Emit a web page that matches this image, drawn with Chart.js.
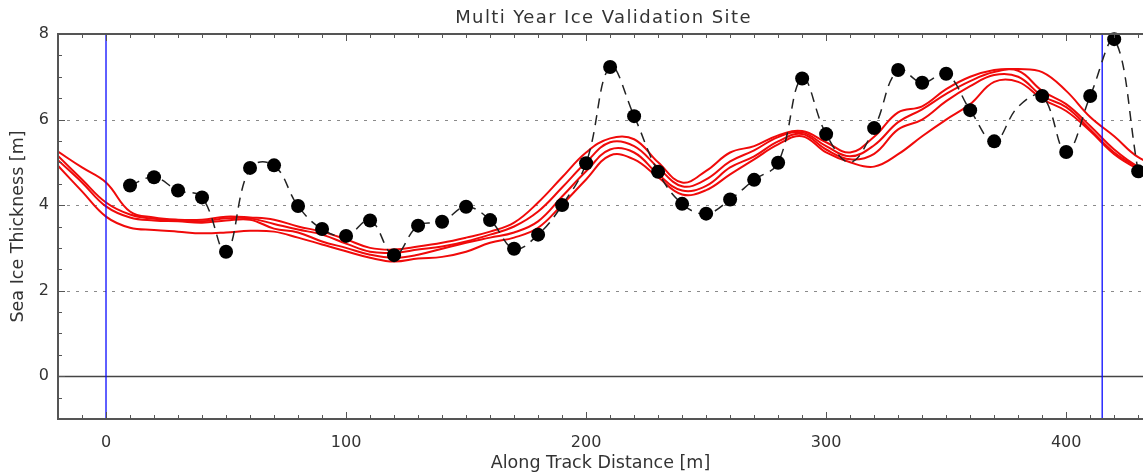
<!DOCTYPE html>
<html>
<head>
<meta charset="utf-8">
<script src="https://cdn.jsdelivr.net/npm/chart.js@4.4.0/dist/chart.umd.min.js"></script>
<style>
  html, body { margin: 0; padding: 0; background: #fff; }
  #wrap { width: 1143px; height: 475px; }
</style>
</head>
<body>
<div id="wrap"><canvas id="chart" width="1143" height="475"></canvas></div>
<script>
// Drill-hole measurements along the track (m)
const distance = [10, 20, 30, 40, 50, 60, 70, 80, 90, 100, 110, 120, 130, 140, 150, 160, 170, 180, 190, 200,
  210, 220, 230, 240, 250, 260, 270, 280, 290, 300, 310, 320, 330, 340, 350, 360, 370, 380, 390, 400, 410, 420, 430];
const measured = [4.46, 4.65, 4.34, 4.18, 2.91, 4.87, 4.93, 3.98, 3.44, 3.28, 3.64, 2.83, 3.52, 3.61, 3.96, 3.65, 2.98, 3.31, 4.00, 4.98,
  7.23, 6.08, 4.78, 4.03, 3.80, 4.13, 4.59, 4.99, 6.96, 5.66, 5.00, 5.80, 7.16, 6.86, 7.07, 6.22, 5.49, 6.30, 6.55, 5.24, 6.55, 7.88, 4.79];
// stations with no marker drawn (line only)
const unmarked = [310, 380];

// Model / airborne retrievals (four runs)
const modelDistance = [-20, -10, 0, 10, 20, 30, 40, 50, 60, 70, 80, 90, 100, 110, 120, 130, 140, 150, 160, 170, 180, 190, 200,
  210, 220, 230, 240, 250, 260, 270, 280, 290, 300, 310, 320, 330, 340, 350, 360, 370, 380, 390, 400, 410, 420, 430, 440];
const run1 = [5.25, 4.88, 4.53, 3.85, 3.71, 3.66, 3.66, 3.73, 3.71, 3.66, 3.50, 3.38, 3.20, 3.00, 2.96, 3.03, 3.12, 3.24, 3.38, 3.59, 4.06, 4.65, 5.23,
  5.56, 5.54, 5.00, 4.53, 4.80, 5.23, 5.38, 5.63, 5.73, 5.47, 5.23, 5.60, 6.17, 6.31, 6.71, 7.00, 7.16, 7.18, 7.11, 6.67, 6.06, 5.61, 5.12, 4.90];
const run2 = [5.15, 4.60, 4.06, 3.78, 3.68, 3.64, 3.62, 3.69, 3.69, 3.56, 3.43, 3.31, 3.10, 2.91, 2.89, 2.96, 3.03, 3.15, 3.31, 3.50, 3.85, 4.41, 5.00,
  5.47, 5.38, 4.88, 4.44, 4.60, 5.02, 5.28, 5.59, 5.70, 5.38, 5.14, 5.40, 5.94, 6.24, 6.60, 6.90, 7.11, 7.14, 6.67, 6.36, 5.85, 5.30, 4.90, 4.70];
const run3 = [5.05, 4.53, 3.97, 3.71, 3.64, 3.62, 3.59, 3.64, 3.66, 3.45, 3.36, 3.15, 3.00, 2.84, 2.77, 2.84, 2.98, 3.12, 3.24, 3.36, 3.62, 4.20, 4.79,
  5.30, 5.23, 4.72, 4.34, 4.45, 4.88, 5.14, 5.49, 5.66, 5.30, 5.07, 5.20, 5.77, 6.00, 6.43, 6.78, 7.04, 7.00, 6.55, 6.29, 5.77, 5.23, 4.88, 4.65];
const run4 = [4.92, 4.32, 3.73, 3.47, 3.42, 3.38, 3.34, 3.36, 3.40, 3.38, 3.24, 3.08, 2.92, 2.77, 2.68, 2.75, 2.79, 2.91, 3.12, 3.24, 3.47, 4.01, 4.60,
  5.16, 5.07, 4.65, 4.25, 4.35, 4.72, 5.07, 5.42, 5.61, 5.23, 5.00, 4.90, 5.19, 5.61, 6.00, 6.36, 6.88, 6.88, 6.48, 6.20, 5.73, 5.19, 4.84, 4.60];

// Site boundaries (blue verticals)
const siteBounds = [0, 415];

const xRange = [-20, 432];
const yRange = [-1, 8];
const dottedLevels = [2, 4, 6];
const zeroLevel = 0;

const FONT = 'DejaVu Sans';
const TEXT = '#333';
const AXIS = '#555';

const toPoints = (xs, ys) => xs.map((x, i) => ({ x: x, y: ys[i] }));

const runs = [run1, run2, run3, run4].map(r => ({
  data: toPoints(modelDistance, r),
  showLine: true,
  borderColor: 'rgb(240, 10, 10)',
  borderWidth: 2,
  pointRadius: 0,
  tension: 0.4,
  order: 3
}));

const bounds = siteBounds.map(b => ({
  data: [{ x: b, y: yRange[0] }, { x: b, y: yRange[1] }],
  showLine: true,
  borderColor: '#0a0aff',
  borderWidth: 1.3,
  pointRadius: 0,
  order: 2
}));

const frame = {
  id: 'frame',
  beforeDatasetsDraw(chart) {
    const { ctx, chartArea: a, scales: { y } } = chart;
    ctx.save();
    dottedLevels.forEach(v => {
      const py = Math.round(y.getPixelForValue(v)) + 0.5;
      ctx.beginPath();
      ctx.setLineDash([3, 6]);
      ctx.strokeStyle = '#8a8a8a';
      ctx.lineWidth = 1;
      ctx.moveTo(a.left, py);
      ctx.lineTo(a.right, py);
      ctx.stroke();
    });
    const pz = Math.round(y.getPixelForValue(zeroLevel)) + 0.5;
    ctx.beginPath();
    ctx.setLineDash([]);
    ctx.strokeStyle = '#444';
    ctx.lineWidth = 1.5;
    ctx.moveTo(a.left, pz);
    ctx.lineTo(a.right, pz);
    ctx.stroke();
    ctx.restore();
  },
  afterDraw(chart) {
    const { ctx, chartArea: a, scales: { x, y } } = chart;
    ctx.save();
    ctx.strokeStyle = AXIS;
    ctx.lineWidth = 2;
    ctx.beginPath();
    ctx.moveTo(a.right + 2, a.top);
    ctx.lineTo(a.left, a.top);
    ctx.lineTo(a.left, a.bottom);
    ctx.lineTo(a.right + 2, a.bottom);
    ctx.stroke();

    // inward ticks, IDL style
    ctx.lineWidth = 1;
    ctx.beginPath();
    for (let v = Math.ceil(x.min / 10) * 10; v <= x.max; v += 10) {
      const px = Math.round(x.getPixelForValue(v)) + 0.5;
      const len = v % 100 === 0 ? 7 : 4;
      ctx.moveTo(px, a.bottom);
      ctx.lineTo(px, a.bottom - len);
      ctx.moveTo(px, a.top);
      ctx.lineTo(px, a.top + len);
    }
    for (let v = Math.ceil(y.min / 0.5) * 0.5; v <= y.max; v += 0.5) {
      const py = Math.round(y.getPixelForValue(v)) + 0.5;
      const len = v % 2 === 0 ? 7 : 4;
      ctx.moveTo(a.left, py);
      ctx.lineTo(a.left + len, py);
    }
    ctx.stroke();

    ctx.fillStyle = TEXT;
    ctx.font = '18px "' + FONT + '"';
    ctx.letterSpacing = '1.4px';
    ctx.textAlign = 'center';
    ctx.textBaseline = 'middle';
    ctx.fillText('Multi Year Ice Validation Site', (a.left + a.right) / 2 + 3, 18);
    ctx.restore();
  }
};

new Chart(document.getElementById('chart'), {
  type: 'scatter',
  data: {
    datasets: [
      {
        data: toPoints(distance, measured).filter(p => !unmarked.includes(p.x)),
        showLine: false,
        pointRadius: 7,
        pointHoverRadius: 7,
        pointBackgroundColor: '#000',
        pointBorderColor: '#000',
        pointBorderWidth: 0,
        clip: false,
        order: 0
      },
      {
        data: toPoints(distance, measured),
        showLine: true,
        borderColor: '#222',
        borderWidth: 1.5,
        borderDash: [10, 7],
        pointRadius: 0,
        tension: 0.4,
        order: 1
      },
      ...bounds,
      ...runs
    ]
  },
  options: {
    responsive: false,
    animation: false,
    devicePixelRatio: 1,
    layout: { autoPadding: false, padding: { top: 34, left: 0, right: 0, bottom: 0 } },
    plugins: {
      legend: { display: false },
      tooltip: { enabled: false }
    },
    scales: {
      x: {
        type: 'linear',
        min: xRange[0],
        max: xRange[1],
        afterFit: s => { s.height = 56; s.paddingLeft = 0; s.paddingRight = 0; },
        ticks: {
          stepSize: 100,
          includeBounds: false,
          padding: 14,
          color: TEXT,
          font: { family: FONT, size: 16 },
          maxRotation: 0
        },
        grid: { display: false, drawTicks: false },
        border: { display: false },
        title: {
          display: true,
          text: 'Along Track Distance [m]',
          color: TEXT,
          font: { family: FONT, size: 17.5 },
          padding: { top: 0, bottom: 1 }
        }
      },
      y: {
        type: 'linear',
        min: yRange[0],
        max: yRange[1],
        afterFit: s => { s.width = 58; s.paddingTop = 0; s.paddingBottom = 0; },
        ticks: {
          stepSize: 2,
          includeBounds: false,
          padding: 9,
          color: TEXT,
          font: { family: FONT, size: 16 }
        },
        grid: { display: false, drawTicks: false },
        border: { display: false },
        title: {
          display: true,
          text: 'Sea Ice Thickness [m]',
          color: TEXT,
          font: { family: FONT, size: 17.5 },
          padding: { top: 8, bottom: 0 }
        }
      }
    }
  },
  plugins: [frame]
});
</script>
</body>
</html>
